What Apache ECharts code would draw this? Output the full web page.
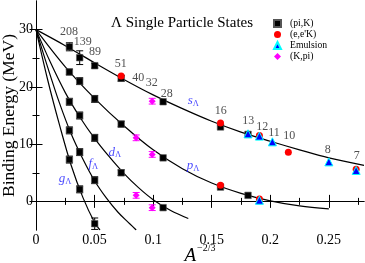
<!DOCTYPE html>
<html><head><meta charset="utf-8">
<script src="https://cdn.jsdelivr.net/npm/echarts@6/dist/echarts.min.js"></script>
<style>html,body{margin:0;padding:0;background:#fff}#c{width:365px;height:263px}</style>
</head><body><div id="c"></div>
<script>
// ---- data ----
const sCurve = [[0,30],[0.025,27.2],[0.05,24.2],[0.075,21.3],[0.1,18.6],[0.125,16.2],[0.15,14.0],[0.175,12.1],[0.2,10.5],[0.225,9.0],[0.25,7.6],[0.28,6.3]];
const pCurve = [[0,30],[0.025,23.5],[0.05,18.0],[0.075,13.2],[0.1,9.0],[0.125,5.7],[0.15,3.2],[0.175,1.4],[0.2,0.1],[0.225,-0.8],[0.25,-1.3]];
const dCurve = [[0,30],[0.0125,24.2],[0.025,19.0],[0.0375,14.7],[0.05,11.0],[0.0625,7.8],[0.075,4.9],[0.0875,2.4],[0.1,0.3],[0.115,-1.6],[0.13,-3.0]];
const fCurve = [[0,30],[0.01,23.4],[0.02,17.2],[0.03,11.8],[0.04,7.4],[0.05,3.6],[0.06,0.6],[0.07,-1.9],[0.08,-3.9],[0.0855,-5.0]];
const gCurve = [[0,30],[0.01,21.2],[0.02,13.4],[0.03,6.3],[0.04,0.7],[0.05,-3.7],[0.0546,-5.0]];

const piK_x   = [0.0285,0.0285,0.0285,0.0285,0.0285, 0.0373,0.0373,0.0373,0.0373,0.0373, 0.0501,0.0501,0.0501,0.0501,0.0501, 0.0727,0.0727,0.0727, 0.1085,0.1085,0.1085, 0.1575,0.1575, 0.181,0.181];
const piK_y   = [27.0,22.6,17.4,12.4,7.3, 25.1,21.0,15.0,8.6,2.1, 23.7,17.9,11.1,3.7,-3.9, 21.5,13.5,5.0, 17.4,7.6,-1.1, 13.0,2.5, 11.7,1.05];
const piK_err = [0.7,0.5,0.6,0.6,0.6, 1.2,0.6,0.6,0.6,0.6, 0.4,0.6,0.6,0.6,1.0, 0.5,0.5,0.5, 0,0,0, 0,0, 0,0];

const eeK_x = [0.0727,0.1575,0.1575,0.1907,0.1907,0.2154,0.2733];
const eeK_y = [21.9,13.7,2.8,11.5,0.4,8.6,5.6];

const emu_x = [0.181,0.1907,0.1907,0.2018,0.25,0.2733];
const emu_y = [11.8,11.4,0.2,10.4,6.9,5.4];

const kpi_x   = [0.0855,0.0855,0.0992,0.0992,0.0992];
const kpi_y   = [11.1,1.05,17.5,8.2,-1.1];
const kpi_err = [0.5,0.5,0.5,0.5,0.5];

const massLabels = ['208','139','89','51','40','32','28','16','13','12','11','10','8','7'];
const massLabelAt = [[0.0282,29.6],[0.0399,27.85],[0.0504,26.1],[0.0723,24.1],[0.0873,21.55],[0.0988,20.7],[0.1116,18.8],[0.1577,15.9],[0.1812,14.0],[0.1932,13.1],[0.2032,11.95],[0.2162,11.5],[0.249,9.0],[0.2738,8.0]];
const curveNames = ['s','p','d','f','g'];
const curveLabelAt = [[0.1343,17.65],[0.134,6.3],[0.0674,8.6],[0.0489,6.6],[0.0248,3.97]];

const xMajor = [0,0.05,0.1,0.15,0.2,0.25];
const xMinor = [0.025,0.075,0.125,0.175,0.225,0.275];
const yMajor = [0,10,20,30];
const yMinor = [5,15,25];

const FONT = 'Liberation Serif';
const chart = echarts.init(document.getElementById('c'));

function zip(xs, ys, es){ return xs.map((x,i)=> es ? [x, ys[i], es[i]] : [x, ys[i]]); }
function errRender(color){
  return function(params, api){
    const x = api.value(0), y = api.value(1), e = api.value(2);
    if (!e) return null;
    const t = api.coord([x, y+e]), b = api.coord([x, y-e]);
    const hw = 3.5, st = {stroke: color, lineWidth: 1};
    return {type:'group', children:[
      {type:'line', shape:{x1:t[0],y1:t[1],x2:b[0],y2:b[1]}, style:st},
      {type:'line', shape:{x1:t[0]-hw,y1:t[1],x2:t[0]+hw,y2:t[1]}, style:st},
      {type:'line', shape:{x1:b[0]-hw,y1:b[1],x2:b[0]+hw,y2:b[1]}, style:st}
    ]};
  };
}
function curve(data){
  return {type:'line', data, smooth:0.35, showSymbol:false, symbol:'none',
    lineStyle:{color:'#000', width:1.2}, silent:true, z:2, clip:true};
}
function xAx(pos, vals, len, showLine, labels){
  return {type:'value', position:pos, min:0, max:0.28, splitLine:{show:false},
    axisLine:{show:showLine, lineStyle:{color:'#000', width:1}},
    axisTick:{show:true, inside:true, length:len, customValues:vals, lineStyle:{color:'#000'}},
    axisLabel: labels ? {show:true, customValues:xMajor, margin:3, color:'#000', fontFamily:FONT, fontSize:14,
      formatter:v=> (Math.round(v*100)/100).toString()} : {show:false}};
}
function yAx(pos, vals, len, showLine, labels){
  return {type:'value', position:pos, min:-5, max:35, splitLine:{show:false},
    axisLine:{show:showLine, lineStyle:{color:'#000', width:1}},
    axisTick:{show:true, inside:true, length:len, customValues:vals, lineStyle:{color:'#000'}},
    axisLabel: labels ? {show:true, customValues:yMajor, margin:3, color:'#000', fontFamily:FONT, fontSize:14} : {show:false}};
}

const xa = [xAx('bottom', xMajor, 6.5, true, true), xAx('bottom', xMinor, 3.5, false, false),
            xAx('top', xMajor, 6.5, true, false), xAx('top', xMinor, 3.5, false, false)];
xa[0].name = '{a|A}{sup|−2/3}';
xa[0].nameLocation = 'middle';
xa[0].nameGap = 10;
xa[0].nameMoveOverlap = false;
xa[0].nameTextStyle = {rich:{
  a:{fontFamily:FONT, fontStyle:'italic', fontSize:19, color:'#000', padding:[6,0,0,0]},
  sup:{fontFamily:FONT, fontSize:10, color:'#000', padding:[0,0,8,1]}}};
const ya = [yAx('left', yMajor, 6.5, true, true), yAx('left', yMinor, 3.5, false, false),
            yAx('right', yMajor, 6.5, true, false), yAx('right', yMinor, 3.5, false, false)];
ya[0].name = 'Binding Energy (MeV)';
ya[0].nameLocation = 'middle';
ya[0].nameGap = 18;
ya[0].nameMoveOverlap = false;
ya[0].nameTextStyle = {fontFamily:FONT, fontSize:17.5, color:'#000'};

const sSeries = curve(sCurve);
sSeries.markLine = {silent:true, symbol:['none','none'], label:{show:false},
  lineStyle:{type:[4,3], color:'#000', width:1}, data:[{yAxis:0}]};

const option = {
  animation:false,
  backgroundColor:'#fff',
  grid:{left:36, right:1, top:1, bottom:33, containLabel:false, outerBoundsMode:'none'},
  title:{text:'Λ Single Particle States', left:111, top:16, padding:0,
    textStyle:{fontFamily:FONT, fontSize:15, fontWeight:'normal', color:'#000'}},
  legend:{data:['(pi,K)',"(e,e'K)",'Emulsion','(K,pi)'], orient:'vertical', left:273, top:18, padding:0,
    itemWidth:7, itemHeight:7, itemGap:0,
    textStyle:{fontFamily:FONT, fontSize:9.7, color:'#000', lineHeight:11, padding:[0,0,0,4]}},
  xAxis: xa,
  yAxis: ya,
  series:[
    sSeries, curve(pCurve), curve(dCurve), curve(fCurve), curve(gCurve),
    {type:'custom', name:'errPiK', renderItem:errRender('#000'), data:zip(piK_x,piK_y,piK_err), z:3, clip:true, silent:true},
    {type:'custom', name:'errKpi', renderItem:errRender('#ff00ff'), data:zip(kpi_x,kpi_y,kpi_err), z:3, clip:true, silent:true},
    {type:'scatter', name:'(pi,K)', data:zip(piK_x,piK_y), symbol:'rect', symbolSize:6.5,
      itemStyle:{color:'#000', borderColor:'#555', borderWidth:0.6, opacity:1}, z:4},
    {type:'scatter', name:"(e,e'K)", data:zip(eeK_x,eeK_y), symbol:'circle', symbolSize:7,
      itemStyle:{color:'#ff0000', opacity:1}, z:5},
    {type:'scatter', name:'Emulsion', data:zip(emu_x,emu_y), symbol:'triangle', symbolSize:8,
      itemStyle:{color:'#0000ff', borderColor:'#00ffff', borderWidth:1, opacity:1}, z:6},
    {type:'scatter', name:'(K,pi)', data:zip(kpi_x,kpi_y), symbol:'diamond', symbolSize:[7,7],
      itemStyle:{color:'#ff00ff', opacity:1}, z:6},
    {type:'scatter', name:'massLabels', silent:true, symbolSize:1, itemStyle:{color:'rgba(0,0,0,0)'}, z:7,
      data: massLabels.map((t,i)=>({name:t, value:massLabelAt[i]})),
      label:{show:true, position:'inside', formatter:p=>p.name, fontFamily:FONT, fontSize:12, color:'#222'}},
    {type:'scatter', name:'curveLabels', silent:true, symbolSize:1, itemStyle:{color:'rgba(0,0,0,0)'}, z:7,
      data: curveNames.map((t,i)=>({name:t, value:curveLabelAt[i]})),
      label:{show:true, position:'inside', formatter:p=>'{l|'+p.name+'}{sub|Λ}',
        rich:{l:{fontFamily:FONT, fontStyle:'italic', fontSize:13, color:'#1a1aff'},
              sub:{fontFamily:FONT, fontSize:8.5, color:'#1a1aff', padding:[6,0,0,0]}}}}
  ]
};
chart.setOption(option);
</script>
</body></html>
